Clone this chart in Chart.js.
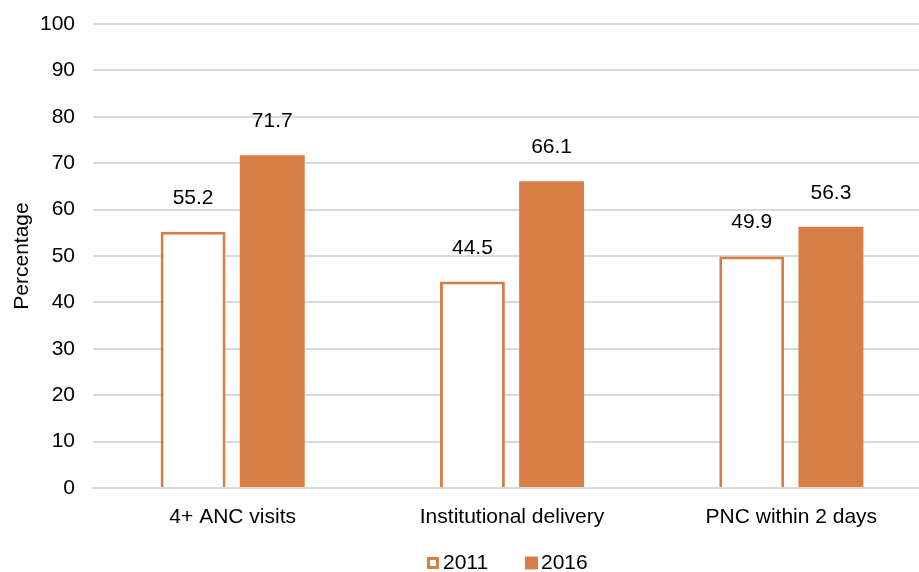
<!DOCTYPE html>
<html><head><meta charset="utf-8">
<script src="https://cdn.jsdelivr.net/npm/chart.js@4/dist/chart.umd.min.js"></script>
<style>html,body{margin:0;padding:0;background:#fff;overflow:hidden}#wrap{width:931px;height:572px}</style>
</head><body><div id="wrap"><canvas id="c" width="931" height="572"></canvas></div>
<script>
const categories = ["4+ ANC visits", "Institutional delivery", "PNC within 2 days"];
const values2011 = [55.2, 44.5, 49.9];
const values2016 = [71.7, 66.1, 56.3];
const seriesNames = ["2011", "2016"];
const yTicks = [0, 10, 20, 30, 40, 50, 60, 70, 80, 90, 100];
const ORANGE = "#D77D46";
const FONT = "'Liberation Sans', Arial, sans-serif";

const labelPlugin = {
  id: "valueLabels",
  afterDatasetsDraw(chart) {
    const ctx = chart.ctx;
    ctx.save();
    ctx.font = "21px " + FONT;
    ctx.fillStyle = "#000";
    ctx.textAlign = "center";
    ctx.textBaseline = "alphabetic";
    chart.data.datasets.forEach((ds, i) => {
      chart.getDatasetMeta(i).data.forEach((bar, j) => {
        ctx.fillText(ds.data[j].toFixed(1), bar.x, bar.y - 28);
      });
    });
    ctx.restore();
  }
};

const legendPlugin = {
  id: "customLegend",
  afterDraw(chart) {
    const ctx = chart.ctx;
    ctx.save();
    ctx.font = "21px " + FONT;
    ctx.textBaseline = "middle";
    ctx.textAlign = "left";
    const y = 563;
    const starts = [427, 525];
    chart.data.datasets.forEach((ds, i) => {
      const x = starts[i];
      if (i === 0) {
        ctx.fillStyle = "#fff";
        ctx.fillRect(x, y - 6, 12, 12);
        ctx.strokeStyle = ORANGE;
        ctx.lineWidth = 3;
        ctx.strokeRect(x + 1.5, y - 4.5, 9, 9);
      } else {
        ctx.fillStyle = ORANGE;
        ctx.fillRect(x, y - 6.5, 13, 13);
      }
      ctx.fillStyle = "#000";
      ctx.fillText(ds.label, x + 16, y);
    });
    ctx.restore();
  }
};

new Chart(document.getElementById("c"), {
  type: "bar",
  data: {
    labels: categories,
    datasets: [
      { label: seriesNames[0], data: values2011, backgroundColor: "#fff", borderColor: ORANGE, borderWidth: 3, categoryPercentage: 0.567, barPercentage: 0.82 },
      { label: seriesNames[1], data: values2016, backgroundColor: ORANGE, borderColor: ORANGE, borderWidth: 0, categoryPercentage: 0.567, barPercentage: 0.82 }
    ]
  },
  options: {
    responsive: false,
    animation: false,
    layout: { padding: { left: 0, right: 0, top: 24, bottom: 34 } },
    plugins: {
      legend: { display: false },
      tooltip: { enabled: false }
    },
    scales: {
      x: {
        grid: { display: false },
        border: { display: true, color: "#d9d9d9", width: 2 },
        ticks: { font: { size: 21, family: FONT }, color: "#000", padding: 9 },
        afterFit(axis) { axis.height = 50; }
      },
      y: {
        min: 0, max: 100,
        afterBuildTicks(axis) { axis.ticks = yTicks.map(v => ({ value: v })); },
        grid: { color: "#d9d9d9", lineWidth: 2, drawTicks: true, tickLength: 16, tickColor: "rgba(0,0,0,0)" },
        border: { display: false },
        ticks: { font: { size: 21, family: FONT }, color: "#000", padding: 2 },
        title: { display: true, text: "Percentage", font: { size: 21, family: FONT }, color: "#000", padding: { top: 10, bottom: 0 } },
        afterFit(axis) { axis.width = 93; }
      }
    }
  },
  plugins: [labelPlugin, legendPlugin]
});
</script></body></html>
